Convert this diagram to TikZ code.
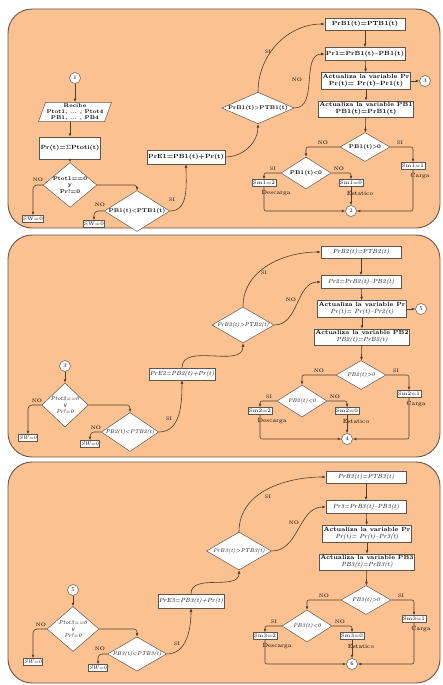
\documentclass[tikz,border=0pt]{standalone}
\usepackage{tikz}
\usetikzlibrary{shapes.geometric,arrows.meta}

% ---------- Colours ----------
\definecolor{panelfill}{RGB}{251,193,145}
\definecolor{panelline}{RGB}{105,85,70}
\definecolor{flowcolor}{RGB}{85,60,40}
\definecolor{boxline}{RGB}{95,85,80}

\tikzset{
  panel/.style={fill=panelfill, draw=panelline, line width=0.9pt, rounded corners=24pt},
  box/.style={draw=boxline, fill=white, line width=0.5pt, inner sep=1pt, align=center, font=\fontsize{6}{6.8}\selectfont},
  smallbox/.style={box, inner sep=0.8pt, minimum width=19, minimum height=7, font=\fontsize{5.2}{5.4}\selectfont},
  decision/.style={diamond, draw=boxline, fill=white, line width=0.5pt, inner sep=0pt, aspect=1.7, align=center, font=\fontsize{5.5}{6.2}\selectfont},
  connector/.style={circle, draw=boxline, fill=white, line width=0.5pt, inner sep=0pt, minimum size=11pt, font=\fontsize{5.5}{6}\selectfont},
  inbox/.style={trapezium, trapezium left angle=70, trapezium right angle=110, draw=boxline, fill=white, line width=0.5pt, inner sep=1pt, align=center, font=\fontsize{5.5}{6.2}\selectfont},
  flow/.style={draw=flowcolor, line width=0.6pt, -{Latex[length=3.5pt,width=2.8pt]}},
  tag/.style={inner sep=0.5pt, font=\fontsize{5}{5}\selectfont},
  state/.style={inner sep=0.5pt, font=\fontsize{6}{6}\selectfont},
}

\begin{document}
\begin{tikzpicture}[x=1pt, y=1pt]
\useasboundingbox (0,0) rectangle (442,-685);

% ---------- Panels ----------
\draw[panel] (8,-9) rectangle (440,-228);
\draw[panel] (8,-235) rectangle (440,-457);
\draw[panel] (8,-462) rectangle (440,-683);

% ---------- Right column, the same in every panel ----------
\foreach \k/\dx/\dy/\fmt in {1/0/0/\bfseries, 2/-4/-228/\itshape, 3/1/-453/\itshape}{
\begin{scope}[shift={(\dx,\dy)}]
  \pgfmathtruncatemacro{\mergelbl}{2*\k}
  \pgfmathtruncatemacro{\nextlbl}{2*\k+1}
  \node[box, minimum width=80, minimum height=12] (A\k) at (365,-24) {\fmt PrB\k(t)=PTB\k(t)};
  \node[box, minimum width=80, minimum height=13] (B\k) at (365,-54) {\fmt Pr\k=PrB\k(t)--PB\k(t)};
  \node[box, minimum width=86, minimum height=17] (C\k) at (366,-81) {\bfseries Actualiza la variable Pr\\ \fmt Pr(t)= Pr(t)--Pr\k(t)};
  \node[box, minimum width=86, minimum height=16] (D\k) at (366,-109) {\bfseries Actualiza la variable PB\k\\ \fmt PB\k(t)=PrB\k(t)};
  \node[decision, minimum width=50, minimum height=29] (E\k) at (365,-147) {\fmt PB\k(t)>0};
  \node[decision, minimum width=50, minimum height=32] (F\k) at (306,-173) {\fmt PB\k(t)<0};
  \node[smallbox, minimum width=24] (Sc\k) at (413,-166) {Sm\k=1};
  \node[smallbox] (Sd\k) at (264,-183) {Sm\k=2};
  \node[smallbox] (Se\k) at (351,-183) {Sm\k=0};
  \node[connector] (M\k) at (351,-211) {\mergelbl};
  \ifnum\k<3
    \node[connector] (N\k) at (425,-81) {\nextlbl};
    \draw[flow] (C\k) -- (N\k);
  \fi
  % labels
  \node[tag] (noE\k) at (323,-143) {NO};
  \node[tag] (siE\k) at (400,-143) {SI};
  \node[tag] (siF\k) at (273,-169) {SI};
  \node[tag] (noF\k) at (339,-169) {NO};
  \node[state] (carga\k) at (420,-176) {Carga};
  \node[state] (desc\k) at (276,-193) {Descarga};
  \node[state] (est\k) at (360,-193) {Estatico};
  % flow
  \draw[flow] (A\k) -- (B\k);
  \draw[flow] (B\k) -- (C\k);
  \draw[flow] (C\k) -- (D\k);
  \draw[flow] (D\k) -- (E\k);
  \draw[flow, rounded corners=2pt] (E\k.west) -| (F\k.north);
  \draw[flow, rounded corners=2pt] (E\k.east) -| (Sc\k.north);
  \draw[flow, rounded corners=2pt] (F\k.west) -| (Sd\k.north);
  \draw[flow, rounded corners=2pt] (F\k.east) -| (Se\k.north);
  \draw[flow, rounded corners=2pt] (Sd\k.south) |- (M\k.west);
  \draw[flow] (Se\k.south) -- (M\k.north);
  \draw[flow, rounded corners=2pt] (Sc\k.south) |- (M\k.east);
\end{scope}
}

% ---------- Panel 1, left part ----------
\node[connector] (s1) at (75,-78) {1};
\node[inbox] (rec1) at (75,-112) {\bfseries Recibe\\ \bfseries Ptot1, ... , Ptot4\\ \bfseries PB1, ... , PB4};
\node[box, minimum width=58, minimum height=22] (sum1) at (70,-148) {\bfseries Pr(t)=$\Sigma$Ptoti(t)};
\node[decision, aspect=1.2, minimum width=52, minimum height=44] (q11) at (70,-185) {\bfseries Ptot1==0\\ \bfseries y\\ \bfseries Pr!=0};
\node[smallbox] (sw11) at (33,-219) {SW=0};
\node[decision, aspect=1.6, minimum width=62, minimum height=36] (q21) at (137,-211) {\bfseries PB1(t)<PTB1(t)};
\node[smallbox] (sw21) at (94,-224) {SW=0};
\node[box, minimum width=61, minimum height=14] (pre1) at (186,-157) {\bfseries PrE1=PB1(t)+Pr(t)};
\node[decision, aspect=2.3, minimum width=70, minimum height=30] (q31) at (258,-108) {\bfseries PrB1(t)>PTB1(t)};

\node[tag] (t11) at (38,-180) {NO};
\node[tag] (t21) at (100,-205) {NO};
\node[tag] (t31) at (172,-200) {SI};
\node[tag] (t41) at (268,-52) {SI};
\node[tag] (t51) at (297,-80) {NO};

\draw[flow] (s1) -- (rec1);
\draw[flow] (rec1.south -| sum1.north) -- (sum1.north);
\draw[flow] (sum1) -- (q11);
\draw[flow, rounded corners=4pt] (q11.west) -| (sw11.north);
\draw[flow, rounded corners=3pt] (q11.east) -| (q21.north);
\draw[flow, rounded corners=4pt] (q21.west) -| (sw21.north);
\draw[flow] (q21.east) to[out=0, in=-90] (pre1.south);
\draw[flow] (pre1.east) to[out=0, in=-90] (q31.south);
\draw[flow] (q31.north) to[out=90, in=180] (A1.west);
\draw[flow] (q31.east) to[out=0, in=180] (B1.west);

% ---------- Panel 2, left part ----------
\node[connector] (s2) at (65,-366) {3};
\node[decision, aspect=1.1, minimum width=46, minimum height=44] (q12) at (65,-405) {\itshape Ptot2==0\\ \itshape y\\ \itshape Pr!=0};
\node[smallbox] (sw12) at (28,-438) {\itshape SW=0};
\node[decision, aspect=1.5, minimum width=56, minimum height=39] (q22) at (130,-432) {\itshape PB2(t)<PTB2(t)};
\node[smallbox] (sw22) at (90,-444) {\itshape SW=0};
\node[box, minimum width=62, minimum height=12] (pre2) at (182,-374) {\itshape PrE2=PB2(t)+Pr(t)};
\node[decision, minimum width=62, minimum height=36] (q32) at (243,-325) {\itshape PrB2(t)>PTB2(t)};

\node[tag] (t12) at (37,-401) {NO};
\node[tag] (t22) at (96,-428) {NO};
\node[tag] (t32) at (169,-419) {SI};
\node[tag] (t42) at (264,-273) {SI};
\node[tag] (t52) at (291,-300) {NO};

\draw[flow] (s2) -- (q12);
\draw[flow, rounded corners=4pt] (q12.west) -| (sw12.north);
\draw[flow, rounded corners=3pt] (q12.east) -| (q22.north);
\draw[flow, rounded corners=4pt] (q22.west) -| (sw22.north);
\draw[flow] (q22.east) to[out=0, in=-90] (pre2.south);
\draw[flow] (pre2.north) to[out=90, in=-90] (q32.south);
\draw[flow] (q32.north) to[out=90, in=180] (A2.west);
\draw[flow] (q32.east) to[out=0, in=180] (B2.west);

% ---------- Panel 3, left part ----------
\node[connector] (s3) at (73,-590) {5};
\node[decision, aspect=1.15, minimum width=52, minimum height=45] (q13) at (73,-629) {\itshape Ptot3==0\\ \itshape y\\ \itshape Pr!=0};
\node[smallbox] (sw13) at (33,-662) {\itshape SW=0};
\node[decision, minimum width=59, minimum height=34] (q23) at (137,-654) {\itshape PB3(t)<PTB3(t)};
\node[smallbox] (sw23) at (98,-668) {\itshape SW=0};
\node[box, minimum width=61, minimum height=14] (pre3) at (191,-601) {\itshape PrE3=PB3(t)+Pr(t)};
\node[decision, minimum width=65, minimum height=38] (q33) at (239,-551) {\itshape PrB3(t)>PTB3(t)};

\node[tag] (t13) at (41,-625) {NO};
\node[tag] (t23) at (100,-649) {NO};
\node[tag] (t33) at (177,-644) {SI};
\node[tag] (t43) at (268,-497) {SI};
\node[tag] (t53) at (294,-523) {NO};

\draw[flow] (s3) -- (q13);
\draw[flow, rounded corners=4pt] (q13.west) -| (sw13.north);
\draw[flow, rounded corners=3pt] (q13.east) -| (q23.north);
\draw[flow, rounded corners=4pt] (q23.west) -| (sw23.north);
\draw[flow] (q23.east) to[out=0, in=-90] (pre3.south);
\draw[flow] (pre3.north) to[out=90, in=-90] (q33.south);
\draw[flow] (q33.north) to[out=90, in=180] (A3.west);
\draw[flow] (q33.east) to[out=0, in=180] (B3.west);

\end{tikzpicture}
\end{document}
